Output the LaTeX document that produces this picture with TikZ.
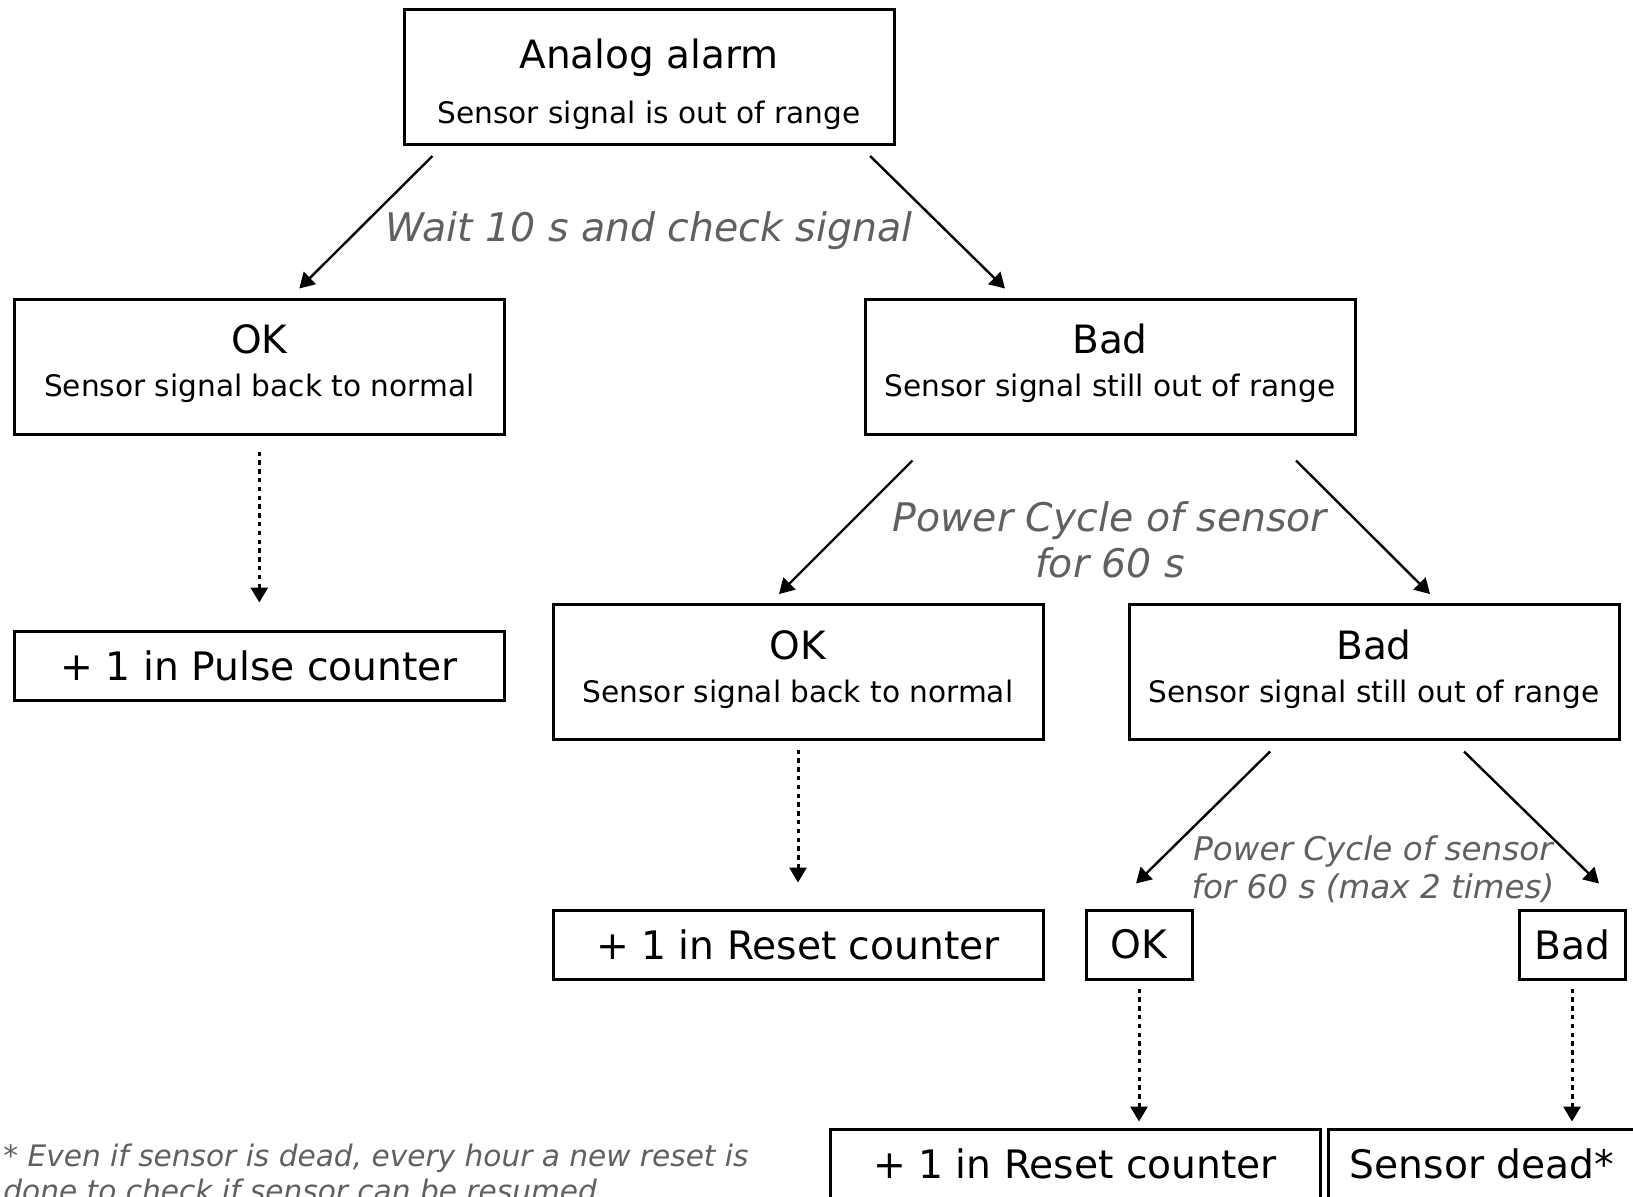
\documentclass[tikz,border=0pt]{standalone}
\usepackage{fontspec}
\setmainfont{DejaVu Sans}
\usetikzlibrary{positioning,arrows.meta,calc}
\definecolor{notegray}{HTML}{606060}
\newcommand{\subtext}{\fontsize{14.8}{17}\selectfont}
% title and subtitle, with struts that fix where the two lines sit
\newcommand{\twoline}[4]{\rule{0pt}{#1}#3\\{\subtext #4\rule[-#2]{0pt}{0pt}}}
\tikzset{
    box/.style = {
        draw,
        shape=rectangle,
        line width=1.5pt,
        inner sep=0pt,
        minimum width=245pt,
        align=center
    },
    tall/.style = {
        box,
        minimum height=67.5pt,
        font=\fontsize{19.5}{21.55}\selectfont
    },
    flat/.style = {
        box,
        minimum height=34.5pt,
        font=\fontsize{19.6}{24}\selectfont
    },
    small/.style = {
        flat,
        minimum width=53pt
    },
    note/.style = {
        text=notegray,
        align=center,
        font=\itshape\fontsize{19.7}{23}\selectfont
    },
    flow/.style = {->, line width=1.2pt},
    dots/.style = {->, line width=1.5pt, dash pattern=on 2.2pt off 2.2pt},
    >={Triangle[length=7.5pt,width=8.5pt]},
}
\begin{document}
\begin{tikzpicture}[x=0.5pt,y=-0.5pt]
    \useasboundingbox (0,0) rectangle (1633,1196);
    \clip (0,0) rectangle (1633,1196);

    % first check
    \node[tall, font=\fontsize{19.5}{27.45}\selectfont] (alarm) at (649,77) {\twoline{25pt}{6.15pt}{Analog alarm}{Sensor signal is out of range}};
    \node[tall] (ok1) at (259.3,366.5) {\twoline{20pt}{11.25pt}{OK}{Sensor signal back to normal}};
    \node[tall] (bad1) at (1110,366.5) {\twoline{20pt}{11.25pt}{Bad}{Sensor signal still out of range}};
    \node[flat] (pulse) at (259.3,665.5) {+ 1 in Pulse counter};
    \node[note] (wait) at (649,231) {Wait 10 s and check signal};

    % first power cycle
    \node[tall] (ok2) at (798,672) {\twoline{20pt}{11.25pt}{OK}{Sensor signal back to normal}};
    \node[tall] (bad2) at (1374,672) {\twoline{20pt}{11.25pt}{Bad}{Sensor signal still out of range}};
    \node[flat] (reset1) at (798,944.5) {+ 1 in Reset counter};
    \node[note, font=\itshape\fontsize{19.7}{22.75}\selectfont] (cycle1) at (1110,540) {Power Cycle of sensor\\for 60 s};

    % repeated power cycle
    \node[small] (ok3) at (1139,944.5) {OK};
    \node[small] (bad3) at (1572,944.5) {Bad};
    \node[flat] (reset2) at (1075,1163.5) {+ 1 in Reset counter};
    \node[flat, minimum width=154pt] (dead) at (1482,1163.5) {Sensor dead*};
    \node[note, font=\itshape\fontsize{16.3}{19}\selectfont] (cycle2) at (1373,869) {Power Cycle of sensor\\for 60 s (max 2 times)};

    \node[note, align=left, anchor=west, inner sep=0pt, font=\itshape\fontsize{14.8}{17.3}\selectfont] (foot) at (3,1173) {* Even if sensor is dead, every hour a new reset is\\done to check if sensor can be resumed};

    \draw[flow] ($(alarm.south west)+(30,10)$) -- ($(ok1.north)+(40,-9)$);
    \draw[flow] ($(alarm.south east)+(-25.4,10)$) -- ($(bad1.north)+(-105,-9)$);
    \draw[dots] ($(ok1.south)+(0,16)$) -- ($(pulse.north)+(0,-27)$);

    \draw[flow] ($(bad1.south west)+(49,25)$) -- ($(ok2.north)+(-19,-9)$);
    \draw[flow] ($(bad1.south east)+(-60.5,25)$) -- ($(bad2.north)+(56,-9)$);
    \draw[dots] ($(ok2.south)+(0,8.5)$) -- ($(reset1.north)+(0,-26)$);

    \draw[flow] ($(bad2.south west)+(142.6,10.5)$) -- ($(ok3.north)+(-3,-25)$);
    \draw[flow] ($(bad2.south east)+(-156.5,10.5)$) -- ($(bad3.north)+(27,-25)$);
    \draw[dots] ($(ok3.south)+(0,8)$) -- ($(ok3.south |- reset2.north)+(0,-6)$);
    \draw[dots] ($(bad3.south)+(0,8)$) -- ($(bad3.south |- dead.north)+(0,-6)$);
\end{tikzpicture}
\end{document}
